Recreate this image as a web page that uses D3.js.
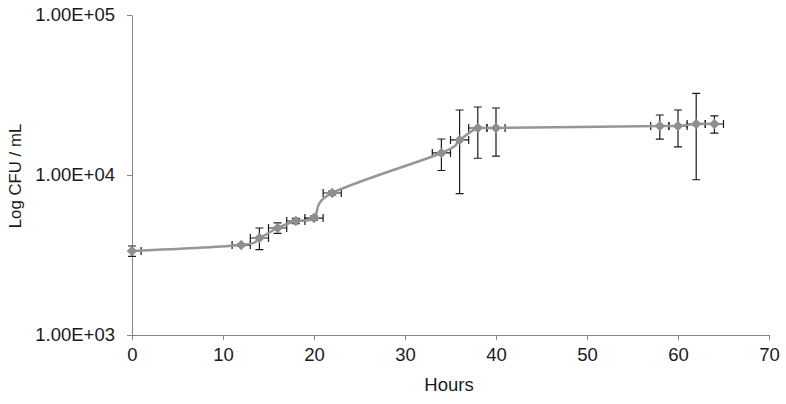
<!DOCTYPE html>
<html>
  <head>
    <style>
      body { margin: 0; background: #fff; }
      svg { display: block; font-family: "Liberation Sans", Arial, sans-serif; }
    </style>
  </head>
  <body>
    <svg id="chart" width="786" height="404"></svg>
    <script src="https://d3js.org/d3.v7.min.js"></script>
    <script>
      // hours sampled
      var hours = [0, 12, 14, 16, 18, 20, 22, 34, 36, 38, 40, 58, 60, 62, 64];
      // mean CFU / mL
      var cfu = [3350, 3650, 4040, 4665, 5160, 5380, 7720, 13730, 16560, 19670, 19670, 20240, 20240, 20840, 20840];
      // standard deviation of CFU / mL
      var cfuErr = [250, 60, 625, 350, 200, 150, 200, 3060, 8920, 6940, 6560, 3470, 5240, 11500, 2550];
      // error on the time axis (hours)
      var hourErr = [1, 1, 1, 1, 1, 1, 1, 1, 1, 1, 1, 1, 1, 1, 1];

      var xTicks = [0, 10, 20, 30, 40, 50, 60, 70];
      var yTicks = [1000, 10000, 100000];

      const svg = d3.select("#chart");
      const plotLeft = 132, plotRight = 769, plotTop = 15, plotBottom = 335;
      const fontSize = "18.5px";

      const x = d3.scaleLinear().domain([0, 70]).range([plotLeft, plotRight]);
      const y = d3.scaleLog().domain([1000, 100000]).range([plotBottom, plotTop]);

      const axisColor = "#868686";
      const textColor = "#1a1a1a";

      // axes
      const xAxis = svg.append("g")
        .attr("transform", "translate(0," + plotBottom + ")")
        .call(d3.axisBottom(x).tickValues(xTicks).tickSize(5).tickSizeOuter(0).tickFormat(d3.format("d")));
      const yAxis = svg.append("g")
        .attr("transform", "translate(" + plotLeft + ",0)")
        .call(d3.axisLeft(y).tickValues(yTicks).tickSize(5).tickSizeOuter(0)
          .tickFormat(d => "1.00E+0" + Math.round(Math.log10(d))));

      [xAxis, yAxis].forEach(a => {
        a.select(".domain").attr("stroke", axisColor).attr("stroke-width", 1);
        a.selectAll(".tick line").attr("stroke", axisColor);
        a.selectAll(".tick text")
          .attr("fill", textColor)
          .style("font-size", fontSize)
          .style("font-family", "'Liberation Sans', Arial, sans-serif");
      });
      xAxis.selectAll(".tick text").attr("dy", "0.95em");
      yAxis.selectAll(".tick text").attr("x", -17);

      // axis titles
      svg.append("text")
        .attr("x", 449)
        .attr("y", 391)
        .attr("text-anchor", "middle")
        .attr("fill", textColor)
        .style("font-size", fontSize)
        .text("Hours");
      svg.append("text")
        .attr("transform", "translate(21,176) rotate(-90)")
        .attr("text-anchor", "middle")
        .attr("fill", textColor)
        .style("font-size", "16.8px")
        .text("Log CFU / mL");

      const pts = hours.map((h, i) => ({ h: h, v: cfu[i], e: cfuErr[i], he: hourErr[i] }));

      // error bars
      const eb = svg.append("g").attr("stroke", "#1a1a1a").attr("stroke-width", 1.2).attr("fill", "none");
      const cap = 4;
      pts.forEach(d => {
        const cx = x(d.h), cy = y(d.v);
        const y0 = y(d.v - d.e), y1 = y(d.v + d.e);
        const x0 = x(d.h - d.he), x1 = x(d.h + d.he);
        eb.append("path").attr("d",
          "M" + cx + "," + y0 + "V" + y1 +
          "M" + (cx - cap) + "," + y0 + "H" + (cx + cap) +
          "M" + (cx - cap) + "," + y1 + "H" + (cx + cap));
        eb.append("path").attr("d",
          "M" + Math.max(x0, plotLeft) + "," + cy + "H" + x1 +
          (x0 >= plotLeft ? "M" + x0 + "," + (cy - cap) + "V" + (cy + cap) : "") +
          "M" + x1 + "," + (cy - cap) + "V" + (cy + cap));
      });

      // line
      svg.append("path")
        .datum(pts)
        .attr("fill", "none")
        .attr("stroke", "#969696")
        .attr("stroke-width", 2.5)
        .attr("d", d3.line().x(d => x(d.h)).y(d => y(d.v)).curve(d3.curveCatmullRom.alpha(0)));

      // markers
      svg.append("g").selectAll("path")
        .data(pts)
        .join("path")
        .attr("transform", d => "translate(" + x(d.h) + "," + y(d.v) + ")")
        .attr("d", d3.symbol().type(d3.symbolDiamond2).size(70))
        .attr("fill", "#8f8f8f");
    </script>
  </body>
</html>
